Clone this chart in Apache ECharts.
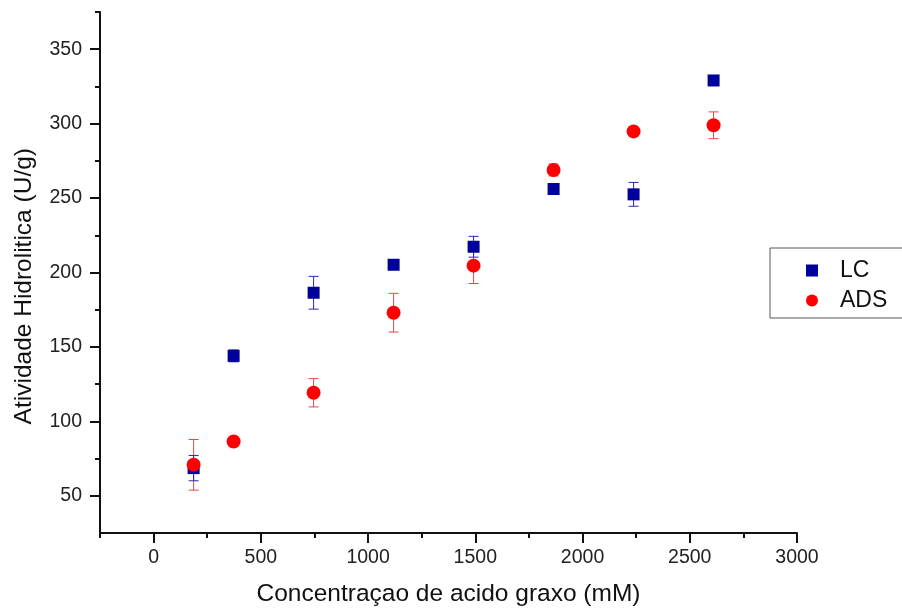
<!DOCTYPE html>
<html>
<head>
<meta charset="utf-8">
<script src="https://cdn.jsdelivr.net/npm/echarts@6/dist/echarts.min.js"></script>
<style>html,body{margin:0;padding:0;background:#fff;}#c{width:902px;height:612px;}</style>
</head>
<body>
<div id="c"></div>
<script>
var xValues = [186.5, 373, 746, 1119, 1492, 1865, 2238, 2611];
var lcValues = [68.6, 144, 186.4, 205.2, 217.3, 256.1, 252.5, 329];
var lcErr = [8.5, 4, 11, 2, 7, 1.5, 8, 1];
var adsValues = [70.8, 86.5, 119.2, 173, 204.6, 268.9, 294.8, 298.9];
var adsErr = [17, 1.5, 9.5, 13, 12, 4, 1.5, 9];
var xMajorTicks = [0, 500, 1000, 1500, 2000, 2500, 3000];
var xMinorTicks = [-250, 250, 750, 1250, 1750, 2250, 2750];
var yMajorTicks = [50, 100, 150, 200, 250, 300, 350];
var yMinorTicks = [75, 125, 175, 225, 275, 325, 375];
var seriesNames = ['LC', 'ADS'];
var xTitle = 'Concentraçao de acido graxo (mM)';
var yTitle = 'Atividade Hidrolitica (U/g)';

var FONT = '"Liberation Sans", Arial, sans-serif';
var chart = echarts.init(document.getElementById('c'), null, {renderer: 'canvas'});

function pts(vals) { return xValues.map(function (x, i) { return [x, vals[i]]; }); }
function errData(vals, errs) { return xValues.map(function (x, i) { return [x, vals[i] - errs[i], vals[i] + errs[i]]; }); }
function errRender(color) {
  return function (params, api) {
    var lo = api.coord([api.value(0), api.value(1)]);
    var hi = api.coord([api.value(0), api.value(2)]);
    var hw = 5;
    var st = {stroke: color, lineWidth: 1};
    return {type: 'group', children: [
      {type: 'line', shape: {x1: lo[0], y1: lo[1], x2: hi[0], y2: hi[1]}, style: st},
      {type: 'line', shape: {x1: lo[0] - hw, y1: lo[1], x2: lo[0] + hw, y2: lo[1]}, style: st},
      {type: 'line', shape: {x1: hi[0] - hw, y1: hi[1], x2: hi[0] + hw, y2: hi[1]}, style: st}
    ]};
  };
}
function plain(v) { return String(v); }

var axisLineStyle = {color: '#111', width: 2};
var option = {
  backgroundColor: '#fff',
  animation: false,
  grid: {left: 100, right: 105, top: 12, bottom: 79, containLabel: false},
  legend: {
    orient: 'vertical', left: 770, top: 248,
    padding: [11, 30, 6, 36], itemGap: 7,
    itemWidth: 12, itemHeight: 12,
    borderColor: '#555', borderWidth: 1,
    textStyle: {fontFamily: FONT, fontSize: 23, lineHeight: 20, color: '#111', padding: [0, 0, 0, 17]},
    data: [{name: seriesNames[0], icon: 'rect'}, {name: seriesNames[1], icon: 'circle'}]
  },
  xAxis: [{
    type: 'value', min: -250, max: 3000, position: 'bottom',
    splitLine: {show: false},
    axisLine: {show: true, onZero: false, lineStyle: axisLineStyle},
    axisTick: {show: true, inside: false, length: 10, customValues: xMajorTicks, lineStyle: {color: '#111', width: 2}},
    axisLabel: {show: true, customValues: xMajorTicks, formatter: plain, margin: 15, fontFamily: FONT, fontSize: 19.5, color: '#222'},
    name: xTitle, nameLocation: 'middle', nameGap: 49,
    nameTextStyle: {fontFamily: FONT, fontSize: 24.5, color: '#111'}
  }, {
    type: 'value', min: -250, max: 3000, position: 'bottom',
    splitLine: {show: false},
    axisLine: {show: false, onZero: false},
    axisTick: {show: true, inside: false, length: 5, customValues: xMinorTicks, lineStyle: {color: '#111', width: 2}},
    axisLabel: {show: false}
  }],
  yAxis: [{
    type: 'value', min: 25, max: 375, position: 'left',
    splitLine: {show: false},
    axisLine: {show: true, onZero: false, lineStyle: axisLineStyle},
    axisTick: {show: true, inside: false, length: 10, customValues: yMajorTicks, lineStyle: {color: '#111', width: 2}},
    axisLabel: {show: true, customValues: yMajorTicks, formatter: plain, margin: 18, fontFamily: FONT, fontSize: 19.5, color: '#222'}
  }, {
    type: 'value', min: 25, max: 375, position: 'left',
    splitLine: {show: false},
    axisLine: {show: false, onZero: false},
    axisTick: {show: true, inside: false, length: 5, customValues: yMinorTicks, lineStyle: {color: '#111', width: 2}},
    axisLabel: {show: false}
  }],
  graphic: [{
    type: 'text', left: 12, top: 148,
    style: {text: yTitle, font: '24.5px ' + FONT, fill: '#111'},
    rotation: Math.PI / 2, originX: 0, originY: 0
  }],
  series: [
    {type: 'custom', name: 'adsErr', renderItem: errRender('#e04848'), data: errData(adsValues, adsErr), z: 2, silent: true, encode: {x: 0, y: [1, 2]}},
    {type: 'custom', name: 'lcErr', renderItem: errRender('#2a2aa8'), data: errData(lcValues, lcErr), z: 2, silent: true, encode: {x: 0, y: [1, 2]}},
    {type: 'scatter', name: seriesNames[0], symbol: 'rect', symbolSize: 12, itemStyle: {color: '#00009a', opacity: 1}, data: pts(lcValues), z: 3},
    {type: 'scatter', name: seriesNames[1], symbol: 'circle', symbolSize: 14, itemStyle: {color: '#ff0000', opacity: 1}, data: pts(adsValues), z: 4}
  ]
};
chart.setOption(option);
</script>
</body>
</html>
